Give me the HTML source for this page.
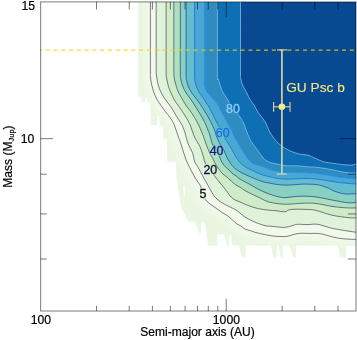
<!DOCTYPE html>
<html><head><meta charset="utf-8"><title>GU Psc b</title>
<style>html,body{margin:0;padding:0;background:#fff}svg{display:block}</style></head>
<body>
<svg width="357" height="340" viewBox="0 0 357 340" font-family="'Liberation Sans', Arial, Helvetica, sans-serif">
<rect width="357" height="340" fill="#ffffff"/>
<defs><clipPath id="pc"><rect x="40.65" y="1.90" width="315.35" height="309.10"/></clipPath>
<clipPath id="lc1"><path clip-rule="evenodd" d="M0,0H357V340H0Z M198.8,188.1h8.5v10.6h-8.5Z"/></clipPath>
<clipPath id="lc3"><path clip-rule="evenodd" d="M0,0H357V340H0Z M202.6,164.3h15.4v10.6h-15.4Z"/></clipPath>
<clipPath id="lc5"><path clip-rule="evenodd" d="M0,0H357V340H0Z M208.9,145.5h15.4v10.6h-15.4Z"/></clipPath>
<clipPath id="lc7"><path clip-rule="evenodd" d="M0,0H357V340H0Z M215.0,127.0h15.4v10.6h-15.4Z"/></clipPath>
<clipPath id="lc9"><path clip-rule="evenodd" d="M0,0H357V340H0Z M225.3,103.0h15.4v10.6h-15.4Z"/></clipPath>
<clipPath id="jc"><path d="M138.2,0.0 L138.2,93.0 L139.2,97.3 L141.0,97.3 L141.6,102.4 L145.2,102.4 L145.6,98.0 L147.0,98.0 L147.3,102.4 L150.5,102.4 L150.8,125.0 L157.2,125.6 L157.4,116.0 L159.5,116.0 L159.8,126.2 L162.9,126.2 L163.1,139.1 L166.8,139.1 L167.3,161.8 L175.5,161.8 L176.8,180.0 L181.2,208.0 L188.5,221.8 L194.8,221.8 L199.0,233.0 L201.1,233.0 L201.1,222.5 L204.6,222.5 L208.1,245.5 L217.2,245.5 L217.2,234.4 L224.1,234.4 L226.9,245.5 L229.0,245.5 L229.6,235.0 L231.2,235.0 L232.5,245.5 L238.8,245.5 L242.3,257.4 L245.3,257.4 L245.6,245.5 L271.1,245.5 L273.2,257.4 L276.7,257.4 L277.4,245.5 L278.5,245.5 L280.9,257.4 L283.0,257.4 L283.0,245.5 L289.3,245.5 L293.5,257.4 L295.9,257.4 L296.1,245.5 L337.1,245.5 L340.6,257.4 L346.2,257.4 L346.2,245.5 L357.0,245.5 L357.0,0.0Z"/></clipPath>
</defs>
<g clip-path="url(#pc)">
<path d="M138.2,0.0 L138.2,93.0 L139.2,97.3 L141.0,97.3 L141.6,102.4 L145.2,102.4 L145.6,98.0 L147.0,98.0 L147.3,102.4 L150.5,102.4 L150.8,125.0 L157.2,125.6 L157.4,116.0 L159.5,116.0 L159.8,126.2 L162.9,126.2 L163.1,139.1 L166.8,139.1 L167.3,161.8 L175.5,161.8 L176.8,180.0 L181.2,208.0 L188.5,221.8 L194.8,221.8 L199.0,233.0 L201.1,233.0 L201.1,222.5 L204.6,222.5 L208.1,245.5 L217.2,245.5 L217.2,234.4 L224.1,234.4 L226.9,245.5 L229.0,245.5 L229.6,235.0 L231.2,235.0 L232.5,245.5 L238.8,245.5 L242.3,257.4 L245.3,257.4 L245.6,245.5 L271.1,245.5 L273.2,257.4 L276.7,257.4 L277.4,245.5 L278.5,245.5 L280.9,257.4 L283.0,257.4 L283.0,245.5 L289.3,245.5 L293.5,257.4 L295.9,257.4 L296.1,245.5 L337.1,245.5 L340.6,257.4 L346.2,257.4 L346.2,245.5 L357.0,245.5 L357.0,0.0Z" fill="#ebf6e2"/>
<g clip-path="url(#jc)"><path d="M150.40,0.00 C150.40,6.67 150.40,28.33 150.40,40.00 C150.40,51.67 150.38,63.92 150.40,70.00 C150.42,76.08 150.35,74.33 150.50,76.50 C150.65,78.67 150.93,80.98 151.30,83.00 C151.67,85.02 152.18,86.77 152.70,88.60 C153.22,90.43 153.68,92.18 154.40,94.00 C155.12,95.82 156.07,97.83 157.00,99.50 C157.93,101.17 158.57,101.93 160.00,104.00 C161.43,106.07 164.18,109.98 165.60,111.90 C167.02,113.82 167.43,114.07 168.50,115.50 C169.57,116.93 171.03,118.90 172.00,120.50 C172.97,122.10 173.20,122.28 174.30,125.10 C175.40,127.92 177.43,134.08 178.60,137.40 C179.77,140.72 180.38,142.23 181.30,145.00 C182.22,147.77 183.17,151.20 184.10,154.00 C185.03,156.80 185.50,158.63 186.90,161.80 C188.30,164.97 190.78,169.80 192.50,173.00 C194.22,176.20 195.90,178.90 197.20,181.00 C198.50,183.10 199.33,183.55 200.30,185.60 C201.27,187.65 202.18,191.02 203.00,193.30 C203.82,195.58 204.02,197.50 205.20,199.30 C206.38,201.10 208.28,202.63 210.10,204.10 C211.92,205.57 214.08,206.68 216.10,208.10 C218.12,209.52 220.18,211.25 222.20,212.60 C224.22,213.95 226.37,214.85 228.20,216.20 C230.03,217.55 231.68,219.37 233.20,220.70 C234.72,222.03 236.17,223.42 237.30,224.20 C238.43,224.98 238.72,224.60 240.00,225.40 C241.28,226.20 243.32,228.13 245.00,229.00 C246.68,229.87 248.42,230.05 250.10,230.60 C251.78,231.15 253.08,231.73 255.10,232.30 C257.12,232.87 259.38,233.40 262.20,234.00 C265.02,234.60 269.03,235.48 272.00,235.90 C274.97,236.32 277.48,236.42 280.00,236.50 C282.52,236.58 284.73,236.77 287.10,236.40 C289.47,236.03 292.02,234.82 294.20,234.30 C296.38,233.78 297.90,233.45 300.20,233.30 C302.50,233.15 304.77,233.35 308.00,233.40 C311.23,233.45 316.27,233.22 319.60,233.60 C322.93,233.98 324.97,234.95 328.00,235.70 C331.03,236.45 334.30,237.52 337.80,238.10 C341.30,238.68 345.80,238.97 349.00,239.20 C352.20,239.43 355.67,239.45 357.00,239.50" fill="none" stroke="#edf7e5" stroke-width="17"/><path d="M150.40,0.00 C150.40,6.67 150.40,28.33 150.40,40.00 C150.40,51.67 150.38,63.92 150.40,70.00 C150.42,76.08 150.35,74.33 150.50,76.50 C150.65,78.67 150.93,80.98 151.30,83.00 C151.67,85.02 152.18,86.77 152.70,88.60 C153.22,90.43 153.68,92.18 154.40,94.00 C155.12,95.82 156.07,97.83 157.00,99.50 C157.93,101.17 158.57,101.93 160.00,104.00 C161.43,106.07 164.18,109.98 165.60,111.90 C167.02,113.82 167.43,114.07 168.50,115.50 C169.57,116.93 171.03,118.90 172.00,120.50 C172.97,122.10 173.20,122.28 174.30,125.10 C175.40,127.92 177.43,134.08 178.60,137.40 C179.77,140.72 180.38,142.23 181.30,145.00 C182.22,147.77 183.17,151.20 184.10,154.00 C185.03,156.80 185.50,158.63 186.90,161.80 C188.30,164.97 190.78,169.80 192.50,173.00 C194.22,176.20 195.90,178.90 197.20,181.00 C198.50,183.10 199.33,183.55 200.30,185.60 C201.27,187.65 202.18,191.02 203.00,193.30 C203.82,195.58 204.02,197.50 205.20,199.30 C206.38,201.10 208.28,202.63 210.10,204.10 C211.92,205.57 214.08,206.68 216.10,208.10 C218.12,209.52 220.18,211.25 222.20,212.60 C224.22,213.95 226.37,214.85 228.20,216.20 C230.03,217.55 231.68,219.37 233.20,220.70 C234.72,222.03 236.17,223.42 237.30,224.20 C238.43,224.98 238.72,224.60 240.00,225.40 C241.28,226.20 243.32,228.13 245.00,229.00 C246.68,229.87 248.42,230.05 250.10,230.60 C251.78,231.15 253.08,231.73 255.10,232.30 C257.12,232.87 259.38,233.40 262.20,234.00 C265.02,234.60 269.03,235.48 272.00,235.90 C274.97,236.32 277.48,236.42 280.00,236.50 C282.52,236.58 284.73,236.77 287.10,236.40 C289.47,236.03 292.02,234.82 294.20,234.30 C296.38,233.78 297.90,233.45 300.20,233.30 C302.50,233.15 304.77,233.35 308.00,233.40 C311.23,233.45 316.27,233.22 319.60,233.60 C322.93,233.98 324.97,234.95 328.00,235.70 C331.03,236.45 334.30,237.52 337.80,238.10 C341.30,238.68 345.80,238.97 349.00,239.20 C352.20,239.43 355.67,239.45 357.00,239.50" fill="none" stroke="#f0f8e9" stroke-width="9"/></g>
<path d="M183,186.4 L184.9,186.4 L185.3,195.7 L184.1,195.7 Z" fill="#ffffff"/>
<path d="M150.40,0.00 C150.40,6.67 150.40,28.33 150.40,40.00 C150.40,51.67 150.38,63.92 150.40,70.00 C150.42,76.08 150.35,74.33 150.50,76.50 C150.65,78.67 150.93,80.98 151.30,83.00 C151.67,85.02 152.18,86.77 152.70,88.60 C153.22,90.43 153.68,92.18 154.40,94.00 C155.12,95.82 156.07,97.83 157.00,99.50 C157.93,101.17 158.57,101.93 160.00,104.00 C161.43,106.07 164.18,109.98 165.60,111.90 C167.02,113.82 167.43,114.07 168.50,115.50 C169.57,116.93 171.03,118.90 172.00,120.50 C172.97,122.10 173.20,122.28 174.30,125.10 C175.40,127.92 177.43,134.08 178.60,137.40 C179.77,140.72 180.38,142.23 181.30,145.00 C182.22,147.77 183.17,151.20 184.10,154.00 C185.03,156.80 185.50,158.63 186.90,161.80 C188.30,164.97 190.78,169.80 192.50,173.00 C194.22,176.20 195.90,178.90 197.20,181.00 C198.50,183.10 199.33,183.55 200.30,185.60 C201.27,187.65 202.18,191.02 203.00,193.30 C203.82,195.58 204.02,197.50 205.20,199.30 C206.38,201.10 208.28,202.63 210.10,204.10 C211.92,205.57 214.08,206.68 216.10,208.10 C218.12,209.52 220.18,211.25 222.20,212.60 C224.22,213.95 226.37,214.85 228.20,216.20 C230.03,217.55 231.68,219.37 233.20,220.70 C234.72,222.03 236.17,223.42 237.30,224.20 C238.43,224.98 238.72,224.60 240.00,225.40 C241.28,226.20 243.32,228.13 245.00,229.00 C246.68,229.87 248.42,230.05 250.10,230.60 C251.78,231.15 253.08,231.73 255.10,232.30 C257.12,232.87 259.38,233.40 262.20,234.00 C265.02,234.60 269.03,235.48 272.00,235.90 C274.97,236.32 277.48,236.42 280.00,236.50 C282.52,236.58 284.73,236.77 287.10,236.40 C289.47,236.03 292.02,234.82 294.20,234.30 C296.38,233.78 297.90,233.45 300.20,233.30 C302.50,233.15 304.77,233.35 308.00,233.40 C311.23,233.45 316.27,233.22 319.60,233.60 C322.93,233.98 324.97,234.95 328.00,235.70 C331.03,236.45 334.30,237.52 337.80,238.10 C341.30,238.68 345.80,238.97 349.00,239.20 C352.20,239.43 355.67,239.45 357.00,239.50 L357,0.0 Z" fill="#f2f9ec"/>
<path d="M156.20,0.00 C156.20,6.67 156.20,28.67 156.20,40.00 C156.20,51.33 156.18,62.33 156.20,68.00 C156.22,73.67 156.13,72.00 156.30,74.00 C156.47,76.00 156.87,78.12 157.20,80.00 C157.53,81.88 157.70,83.30 158.30,85.30 C158.90,87.30 159.62,89.62 160.80,92.00 C161.98,94.38 163.95,97.43 165.40,99.60 C166.85,101.77 168.40,103.52 169.50,105.00 C170.60,106.48 171.08,107.03 172.00,108.50 C172.92,109.97 173.33,111.03 175.00,113.80 C176.67,116.57 180.33,121.92 182.00,125.10 C183.67,128.28 184.23,130.63 185.00,132.90 C185.77,135.17 186.00,136.68 186.60,138.70 C187.20,140.72 187.62,142.65 188.60,145.00 C189.58,147.35 191.48,150.00 192.50,152.80 C193.52,155.60 193.87,159.55 194.70,161.80 C195.53,164.05 196.62,164.77 197.50,166.30 C198.38,167.83 198.75,168.70 200.00,171.00 C201.25,173.30 203.32,177.07 205.00,180.10 C206.68,183.13 208.58,186.55 210.10,189.20 C211.62,191.85 212.77,194.20 214.10,196.00 C215.43,197.80 216.42,198.65 218.10,200.00 C219.78,201.35 222.18,202.92 224.20,204.10 C226.22,205.28 228.18,206.10 230.20,207.10 C232.22,208.10 234.67,209.10 236.30,210.10 C237.93,211.10 238.38,211.85 240.00,213.10 C241.62,214.35 243.48,216.08 246.00,217.60 C248.52,219.12 251.90,220.85 255.10,222.20 C258.30,223.55 262.38,225.02 265.20,225.70 C268.02,226.38 268.85,226.02 272.00,226.30 C275.15,226.58 280.73,227.50 284.10,227.40 C287.47,227.30 290.02,226.22 292.20,225.70 C294.38,225.18 294.57,224.48 297.20,224.30 C299.83,224.12 304.60,224.60 308.00,224.60 C311.40,224.60 313.80,223.73 317.60,224.30 C321.40,224.87 326.73,227.03 330.80,228.00 C334.87,228.97 337.63,229.37 342.00,230.10 C346.37,230.83 354.50,232.02 357.00,232.40 L357,0.0 Z" fill="#e1f2da"/>
<path d="M166.10,0.00 C166.10,6.67 166.10,28.33 166.10,40.00 C166.10,51.67 166.07,63.95 166.10,70.00 C166.13,76.05 166.12,74.47 166.30,76.30 C166.48,78.13 166.85,79.32 167.20,81.00 C167.55,82.68 167.80,84.47 168.40,86.40 C169.00,88.33 169.80,90.33 170.80,92.60 C171.80,94.87 173.08,97.72 174.40,100.00 C175.72,102.28 177.17,104.07 178.70,106.30 C180.23,108.53 181.80,110.53 183.60,113.40 C185.40,116.27 187.68,119.57 189.50,123.50 C191.32,127.43 192.75,133.13 194.50,137.00 C196.25,140.87 198.52,143.40 200.00,146.70 C201.48,150.00 202.47,153.92 203.40,156.80 C204.33,159.68 204.42,161.82 205.60,164.00 C206.78,166.18 209.08,167.98 210.50,169.90 C211.92,171.82 212.48,173.30 214.10,175.50 C215.72,177.70 218.35,180.82 220.20,183.10 C222.05,185.38 223.53,187.05 225.20,189.20 C226.87,191.35 228.68,194.28 230.20,196.00 C231.72,197.72 232.67,198.50 234.30,199.50 C235.93,200.50 237.70,201.00 240.00,202.00 C242.30,203.00 245.07,204.40 248.10,205.50 C251.13,206.60 254.85,207.83 258.20,208.60 C261.55,209.37 265.23,209.75 268.20,210.10 C271.17,210.45 273.68,210.45 276.00,210.70 C278.32,210.95 280.42,211.45 282.10,211.60 C283.78,211.75 284.93,211.90 286.10,211.60 C287.27,211.30 287.25,210.20 289.10,209.80 C290.95,209.40 294.05,209.25 297.20,209.20 C300.35,209.15 304.87,209.30 308.00,209.50 C311.13,209.70 312.00,209.45 316.00,210.40 C320.00,211.35 326.67,214.00 332.00,215.20 C337.33,216.40 343.83,217.15 348.00,217.60 C352.17,218.05 355.50,217.85 357.00,217.90 L357,0.0 Z" fill="#cfebc8"/>
<path d="M173.80,0.00 C173.80,6.67 173.80,28.33 173.80,40.00 C173.80,51.67 173.75,63.83 173.80,70.00 C173.85,76.17 173.80,74.67 174.10,77.00 C174.40,79.33 174.90,81.50 175.60,84.00 C176.30,86.50 177.10,89.33 178.30,92.00 C179.50,94.67 181.47,97.70 182.80,100.00 C184.13,102.30 184.90,103.75 186.30,105.80 C187.70,107.85 189.27,109.35 191.20,112.30 C193.13,115.25 195.88,119.53 197.90,123.50 C199.92,127.47 202.07,133.02 203.30,136.10 C204.53,139.18 204.32,139.38 205.30,142.00 C206.28,144.62 207.95,149.03 209.20,151.80 C210.45,154.57 211.63,156.35 212.80,158.60 C213.97,160.85 215.05,163.37 216.20,165.30 C217.35,167.23 218.58,168.75 219.70,170.20 C220.82,171.65 221.77,172.90 222.90,174.00 C224.03,175.10 225.10,175.62 226.50,176.80 C227.90,177.98 229.72,179.73 231.30,181.10 C232.88,182.47 234.55,183.98 236.00,185.00 C237.45,186.02 238.50,186.27 240.00,187.20 C241.50,188.13 243.00,189.43 245.00,190.60 C247.00,191.77 249.50,192.97 252.00,194.20 C254.50,195.43 257.33,196.73 260.00,198.00 C262.67,199.27 264.98,200.85 268.00,201.80 C271.02,202.75 274.73,203.30 278.10,203.70 C281.47,204.10 283.88,204.28 288.20,204.20 C292.52,204.12 299.37,203.32 304.00,203.20 C308.63,203.08 311.33,202.97 316.00,203.50 C320.67,204.03 327.17,205.68 332.00,206.40 C336.83,207.12 340.83,207.53 345.00,207.80 C349.17,208.07 355.00,207.97 357.00,208.00 L357,0.0 Z" fill="#ade0bc"/>
<path d="M180.30,0.00 C180.30,6.67 180.30,28.00 180.30,40.00 C180.30,52.00 180.22,65.50 180.30,72.00 C180.38,78.50 180.42,76.67 180.80,79.00 C181.18,81.33 181.70,83.67 182.60,86.00 C183.50,88.33 184.77,90.67 186.20,93.00 C187.63,95.33 189.12,96.87 191.20,100.00 C193.28,103.13 196.48,108.17 198.70,111.80 C200.92,115.43 202.95,118.72 204.50,121.80 C206.05,124.88 207.12,128.10 208.00,130.30 C208.88,132.50 209.00,132.53 209.80,135.00 C210.60,137.47 211.70,142.45 212.80,145.10 C213.90,147.75 215.27,148.93 216.40,150.90 C217.53,152.87 218.65,154.92 219.60,156.90 C220.55,158.88 220.97,160.98 222.10,162.80 C223.23,164.62 225.22,166.57 226.40,167.80 C227.58,169.03 228.27,169.28 229.20,170.20 C230.13,171.12 230.87,172.35 232.00,173.30 C233.13,174.25 234.65,174.93 236.00,175.90 C237.35,176.87 237.73,177.65 240.10,179.10 C242.47,180.55 247.18,182.92 250.20,184.60 C253.22,186.28 255.23,187.70 258.20,189.20 C261.17,190.70 264.68,192.35 268.00,193.60 C271.32,194.85 275.25,196.02 278.10,196.70 C280.95,197.38 282.58,197.70 285.10,197.70 C287.62,197.70 290.05,196.95 293.20,196.70 C296.35,196.45 300.20,196.15 304.00,196.20 C307.80,196.25 311.33,196.37 316.00,197.00 C320.67,197.63 326.67,199.03 332.00,200.00 C337.33,200.97 343.83,202.42 348.00,202.80 C352.17,203.18 355.50,202.38 357.00,202.30 L357,0.0 Z" fill="#88d1c2"/>
<path d="M186.10,0.00 C186.10,6.67 186.10,27.67 186.10,40.00 C186.10,52.33 186.00,67.17 186.10,74.00 C186.20,80.83 186.28,78.83 186.70,81.00 C187.12,83.17 187.75,85.00 188.60,87.00 C189.45,89.00 190.35,90.83 191.80,93.00 C193.25,95.17 195.43,97.42 197.30,100.00 C199.17,102.58 201.13,105.57 203.00,108.50 C204.87,111.43 206.92,114.77 208.50,117.60 C210.08,120.43 211.38,123.12 212.50,125.50 C213.62,127.88 214.58,130.23 215.20,131.90 C215.82,133.57 215.38,133.45 216.20,135.50 C217.02,137.55 218.83,141.75 220.10,144.20 C221.37,146.65 222.70,148.08 223.80,150.20 C224.90,152.32 225.65,154.80 226.70,156.90 C227.75,159.00 228.80,160.95 230.10,162.80 C231.40,164.65 232.50,166.30 234.50,168.00 C236.50,169.70 239.15,171.40 242.10,173.00 C245.05,174.60 248.83,176.17 252.20,177.60 C255.57,179.03 259.67,180.73 262.30,181.60 C264.93,182.47 265.37,182.30 268.00,182.80 C270.63,183.30 274.73,184.22 278.10,184.60 C281.47,184.98 283.88,185.18 288.20,185.10 C292.52,185.02 299.20,184.17 304.00,184.10 C308.80,184.03 313.72,184.32 317.00,184.70 C320.28,185.08 321.83,185.85 323.70,186.40 C325.57,186.95 326.32,187.17 328.20,188.00 C330.08,188.83 332.20,190.42 335.00,191.40 C337.80,192.38 341.33,193.52 345.00,193.90 C348.67,194.28 355.00,193.73 357.00,193.70 L357,0.0 Z" fill="#64bdce"/>
<path d="M194.60,0.00 C194.60,6.67 194.60,27.33 194.60,40.00 C194.60,52.67 194.52,69.00 194.60,76.00 C194.68,83.00 194.70,80.00 195.10,82.00 C195.50,84.00 196.18,86.08 197.00,88.00 C197.82,89.92 198.75,91.50 200.00,93.50 C201.25,95.50 202.90,97.55 204.50,100.00 C206.10,102.45 207.93,105.20 209.60,108.20 C211.27,111.20 213.03,115.13 214.50,118.00 C215.97,120.87 217.10,122.97 218.40,125.40 C219.70,127.83 221.28,130.58 222.30,132.60 C223.32,134.62 223.27,135.27 224.50,137.50 C225.73,139.73 228.23,143.58 229.70,146.00 C231.17,148.42 232.08,149.92 233.30,152.00 C234.52,154.08 235.58,156.45 237.00,158.50 C238.42,160.55 240.10,162.70 241.80,164.30 C243.50,165.90 245.50,167.12 247.20,168.10 C248.90,169.08 250.02,169.28 252.00,170.20 C253.98,171.12 256.93,172.70 259.10,173.60 C261.27,174.50 263.18,175.05 265.00,175.60 C266.82,176.15 268.33,176.50 270.00,176.90 C271.67,177.30 272.82,177.65 275.00,178.00 C277.18,178.35 280.10,178.83 283.10,179.00 C286.10,179.17 289.52,179.08 293.00,179.00 C296.48,178.92 300.00,178.48 304.00,178.50 C308.00,178.52 312.97,178.72 317.00,179.10 C321.03,179.48 324.47,180.23 328.20,180.80 C331.93,181.37 335.67,182.03 339.40,182.50 C343.13,182.97 347.67,183.35 350.60,183.60 C353.53,183.85 355.93,183.93 357.00,184.00 L357,0.0 Z" fill="#49a7d1"/>
<path d="M204.40,0.00 C204.40,6.67 204.40,26.67 204.40,40.00 C204.40,53.33 204.37,72.33 204.40,80.00 C204.43,87.67 204.27,84.17 204.60,86.00 C204.93,87.83 205.57,89.50 206.40,91.00 C207.23,92.50 208.42,93.58 209.60,95.00 C210.78,96.42 212.23,98.03 213.50,99.50 C214.77,100.97 215.83,101.67 217.20,103.80 C218.57,105.93 220.02,109.20 221.70,112.30 C223.38,115.40 225.62,119.37 227.30,122.40 C228.98,125.43 230.63,128.07 231.80,130.50 C232.97,132.93 233.50,135.32 234.30,137.00 C235.10,138.68 235.68,139.10 236.60,140.60 C237.52,142.10 238.85,144.42 239.80,146.00 C240.75,147.58 241.35,148.52 242.30,150.10 C243.25,151.68 244.47,153.92 245.50,155.50 C246.53,157.08 247.42,158.38 248.50,159.60 C249.58,160.82 250.78,161.97 252.00,162.80 C253.22,163.63 253.87,163.92 255.80,164.60 C257.73,165.28 261.23,166.07 263.60,166.90 C265.97,167.73 268.10,168.93 270.00,169.60 C271.90,170.27 273.17,170.50 275.00,170.90 C276.83,171.30 278.93,171.75 281.00,172.00 C283.07,172.25 284.23,172.32 287.40,172.40 C290.57,172.48 296.23,172.42 300.00,172.50 C303.77,172.58 307.17,172.73 310.00,172.90 C312.83,173.07 313.97,173.12 317.00,173.50 C320.03,173.88 324.47,174.58 328.20,175.20 C331.93,175.82 335.67,176.63 339.40,177.20 C343.13,177.77 347.67,178.32 350.60,178.60 C353.53,178.88 355.93,178.85 357.00,178.90 L357,0.0 Z" fill="#2e8cc0"/>
<path d="M217.40,0.00 C217.40,6.67 217.40,27.33 217.40,40.00 C217.40,52.67 217.28,69.50 217.40,76.00 C217.52,82.50 217.82,78.08 218.10,79.00 C218.38,79.92 218.47,79.63 219.10,81.50 C219.73,83.37 220.92,87.87 221.90,90.20 C222.88,92.53 224.05,93.97 225.00,95.50 C225.95,97.03 226.82,98.05 227.60,99.40 C228.38,100.75 228.90,102.10 229.70,103.60 C230.50,105.10 231.12,106.77 232.40,108.40 C233.68,110.03 235.97,111.72 237.40,113.40 C238.83,115.08 239.98,116.90 241.00,118.50 C242.02,120.10 242.58,120.92 243.50,123.00 C244.42,125.08 245.58,128.67 246.50,131.00 C247.42,133.33 248.18,135.17 249.00,137.00 C249.82,138.83 250.27,140.20 251.40,142.00 C252.53,143.80 254.53,146.08 255.80,147.80 C257.07,149.52 257.88,150.80 259.00,152.30 C260.12,153.80 261.50,155.55 262.50,156.80 C263.50,158.05 263.75,158.87 265.00,159.80 C266.25,160.73 268.33,161.77 270.00,162.40 C271.67,163.03 272.30,163.03 275.00,163.60 C277.70,164.17 282.47,165.43 286.20,165.80 C289.93,166.17 293.67,165.62 297.40,165.80 C301.13,165.98 305.50,166.67 308.60,166.90 C311.70,167.13 312.73,166.85 316.00,167.20 C319.27,167.55 324.30,168.32 328.20,169.00 C332.10,169.68 335.67,170.63 339.40,171.30 C343.13,171.97 347.67,172.70 350.60,173.00 C353.53,173.30 355.93,173.08 357.00,173.10 L357,0.0 Z" fill="#0f6fb5"/>
<path d="M240.50,0.00 C240.50,6.67 240.50,27.67 240.50,40.00 C240.50,52.33 240.43,67.50 240.50,74.00 C240.57,80.50 240.62,77.33 240.90,79.00 C241.18,80.67 241.58,82.33 242.20,84.00 C242.82,85.67 243.75,87.33 244.60,89.00 C245.45,90.67 246.40,92.25 247.30,94.00 C248.20,95.75 248.88,97.67 250.00,99.50 C251.12,101.33 252.60,102.78 254.00,105.00 C255.40,107.22 256.53,110.00 258.40,112.80 C260.27,115.60 263.42,118.80 265.20,121.80 C266.98,124.80 267.62,128.00 269.10,130.80 C270.58,133.60 272.60,136.57 274.10,138.60 C275.60,140.63 277.02,141.92 278.10,143.00 C279.18,144.08 279.25,144.10 280.60,145.10 C281.95,146.10 283.77,147.70 286.20,149.00 C288.63,150.30 292.40,151.97 295.20,152.90 C298.00,153.83 300.77,154.20 303.00,154.60 C305.23,155.00 306.77,154.77 308.60,155.30 C310.43,155.83 312.60,157.18 314.00,157.80 C315.40,158.42 315.38,158.33 317.00,159.00 C318.62,159.67 320.90,161.07 323.70,161.80 C326.50,162.53 330.25,162.90 333.80,163.40 C337.35,163.90 342.02,164.52 345.00,164.80 C347.98,165.08 349.92,165.20 351.70,165.10 C353.48,165.00 354.82,164.42 355.70,164.20 C356.58,163.98 356.78,163.87 357.00,163.80 L357,0.0 Z" fill="#084a91"/>
<g clip-path="url(#lc1)"><path d="M150.40,0.00 C150.40,6.67 150.40,28.33 150.40,40.00 C150.40,51.67 150.38,63.92 150.40,70.00 C150.42,76.08 150.35,74.33 150.50,76.50 C150.65,78.67 150.93,80.98 151.30,83.00 C151.67,85.02 152.18,86.77 152.70,88.60 C153.22,90.43 153.68,92.18 154.40,94.00 C155.12,95.82 156.07,97.83 157.00,99.50 C157.93,101.17 158.57,101.93 160.00,104.00 C161.43,106.07 164.18,109.98 165.60,111.90 C167.02,113.82 167.43,114.07 168.50,115.50 C169.57,116.93 171.03,118.90 172.00,120.50 C172.97,122.10 173.20,122.28 174.30,125.10 C175.40,127.92 177.43,134.08 178.60,137.40 C179.77,140.72 180.38,142.23 181.30,145.00 C182.22,147.77 183.17,151.20 184.10,154.00 C185.03,156.80 185.50,158.63 186.90,161.80 C188.30,164.97 190.78,169.80 192.50,173.00 C194.22,176.20 195.90,178.90 197.20,181.00 C198.50,183.10 199.33,183.55 200.30,185.60 C201.27,187.65 202.18,191.02 203.00,193.30 C203.82,195.58 204.02,197.50 205.20,199.30 C206.38,201.10 208.28,202.63 210.10,204.10 C211.92,205.57 214.08,206.68 216.10,208.10 C218.12,209.52 220.18,211.25 222.20,212.60 C224.22,213.95 226.37,214.85 228.20,216.20 C230.03,217.55 231.68,219.37 233.20,220.70 C234.72,222.03 236.17,223.42 237.30,224.20 C238.43,224.98 238.72,224.60 240.00,225.40 C241.28,226.20 243.32,228.13 245.00,229.00 C246.68,229.87 248.42,230.05 250.10,230.60 C251.78,231.15 253.08,231.73 255.10,232.30 C257.12,232.87 259.38,233.40 262.20,234.00 C265.02,234.60 269.03,235.48 272.00,235.90 C274.97,236.32 277.48,236.42 280.00,236.50 C282.52,236.58 284.73,236.77 287.10,236.40 C289.47,236.03 292.02,234.82 294.20,234.30 C296.38,233.78 297.90,233.45 300.20,233.30 C302.50,233.15 304.77,233.35 308.00,233.40 C311.23,233.45 316.27,233.22 319.60,233.60 C322.93,233.98 324.97,234.95 328.00,235.70 C331.03,236.45 334.30,237.52 337.80,238.10 C341.30,238.68 345.80,238.97 349.00,239.20 C352.20,239.43 355.67,239.45 357.00,239.50" fill="none" stroke="#000000" stroke-width="0.95" stroke-opacity="0.52"/></g>
<g><path d="M156.20,0.00 C156.20,6.67 156.20,28.67 156.20,40.00 C156.20,51.33 156.18,62.33 156.20,68.00 C156.22,73.67 156.13,72.00 156.30,74.00 C156.47,76.00 156.87,78.12 157.20,80.00 C157.53,81.88 157.70,83.30 158.30,85.30 C158.90,87.30 159.62,89.62 160.80,92.00 C161.98,94.38 163.95,97.43 165.40,99.60 C166.85,101.77 168.40,103.52 169.50,105.00 C170.60,106.48 171.08,107.03 172.00,108.50 C172.92,109.97 173.33,111.03 175.00,113.80 C176.67,116.57 180.33,121.92 182.00,125.10 C183.67,128.28 184.23,130.63 185.00,132.90 C185.77,135.17 186.00,136.68 186.60,138.70 C187.20,140.72 187.62,142.65 188.60,145.00 C189.58,147.35 191.48,150.00 192.50,152.80 C193.52,155.60 193.87,159.55 194.70,161.80 C195.53,164.05 196.62,164.77 197.50,166.30 C198.38,167.83 198.75,168.70 200.00,171.00 C201.25,173.30 203.32,177.07 205.00,180.10 C206.68,183.13 208.58,186.55 210.10,189.20 C211.62,191.85 212.77,194.20 214.10,196.00 C215.43,197.80 216.42,198.65 218.10,200.00 C219.78,201.35 222.18,202.92 224.20,204.10 C226.22,205.28 228.18,206.10 230.20,207.10 C232.22,208.10 234.67,209.10 236.30,210.10 C237.93,211.10 238.38,211.85 240.00,213.10 C241.62,214.35 243.48,216.08 246.00,217.60 C248.52,219.12 251.90,220.85 255.10,222.20 C258.30,223.55 262.38,225.02 265.20,225.70 C268.02,226.38 268.85,226.02 272.00,226.30 C275.15,226.58 280.73,227.50 284.10,227.40 C287.47,227.30 290.02,226.22 292.20,225.70 C294.38,225.18 294.57,224.48 297.20,224.30 C299.83,224.12 304.60,224.60 308.00,224.60 C311.40,224.60 313.80,223.73 317.60,224.30 C321.40,224.87 326.73,227.03 330.80,228.00 C334.87,228.97 337.63,229.37 342.00,230.10 C346.37,230.83 354.50,232.02 357.00,232.40" fill="none" stroke="#000010" stroke-width="0.95" stroke-opacity="0.52"/></g>
<g clip-path="url(#lc3)"><path d="M166.10,0.00 C166.10,6.67 166.10,28.33 166.10,40.00 C166.10,51.67 166.07,63.95 166.10,70.00 C166.13,76.05 166.12,74.47 166.30,76.30 C166.48,78.13 166.85,79.32 167.20,81.00 C167.55,82.68 167.80,84.47 168.40,86.40 C169.00,88.33 169.80,90.33 170.80,92.60 C171.80,94.87 173.08,97.72 174.40,100.00 C175.72,102.28 177.17,104.07 178.70,106.30 C180.23,108.53 181.80,110.53 183.60,113.40 C185.40,116.27 187.68,119.57 189.50,123.50 C191.32,127.43 192.75,133.13 194.50,137.00 C196.25,140.87 198.52,143.40 200.00,146.70 C201.48,150.00 202.47,153.92 203.40,156.80 C204.33,159.68 204.42,161.82 205.60,164.00 C206.78,166.18 209.08,167.98 210.50,169.90 C211.92,171.82 212.48,173.30 214.10,175.50 C215.72,177.70 218.35,180.82 220.20,183.10 C222.05,185.38 223.53,187.05 225.20,189.20 C226.87,191.35 228.68,194.28 230.20,196.00 C231.72,197.72 232.67,198.50 234.30,199.50 C235.93,200.50 237.70,201.00 240.00,202.00 C242.30,203.00 245.07,204.40 248.10,205.50 C251.13,206.60 254.85,207.83 258.20,208.60 C261.55,209.37 265.23,209.75 268.20,210.10 C271.17,210.45 273.68,210.45 276.00,210.70 C278.32,210.95 280.42,211.45 282.10,211.60 C283.78,211.75 284.93,211.90 286.10,211.60 C287.27,211.30 287.25,210.20 289.10,209.80 C290.95,209.40 294.05,209.25 297.20,209.20 C300.35,209.15 304.87,209.30 308.00,209.50 C311.13,209.70 312.00,209.45 316.00,210.40 C320.00,211.35 326.67,214.00 332.00,215.20 C337.33,216.40 343.83,217.15 348.00,217.60 C352.17,218.05 355.50,217.85 357.00,217.90" fill="none" stroke="#06062c" stroke-width="0.95" stroke-opacity="0.53"/></g>
<g><path d="M173.80,0.00 C173.80,6.67 173.80,28.33 173.80,40.00 C173.80,51.67 173.75,63.83 173.80,70.00 C173.85,76.17 173.80,74.67 174.10,77.00 C174.40,79.33 174.90,81.50 175.60,84.00 C176.30,86.50 177.10,89.33 178.30,92.00 C179.50,94.67 181.47,97.70 182.80,100.00 C184.13,102.30 184.90,103.75 186.30,105.80 C187.70,107.85 189.27,109.35 191.20,112.30 C193.13,115.25 195.88,119.53 197.90,123.50 C199.92,127.47 202.07,133.02 203.30,136.10 C204.53,139.18 204.32,139.38 205.30,142.00 C206.28,144.62 207.95,149.03 209.20,151.80 C210.45,154.57 211.63,156.35 212.80,158.60 C213.97,160.85 215.05,163.37 216.20,165.30 C217.35,167.23 218.58,168.75 219.70,170.20 C220.82,171.65 221.77,172.90 222.90,174.00 C224.03,175.10 225.10,175.62 226.50,176.80 C227.90,177.98 229.72,179.73 231.30,181.10 C232.88,182.47 234.55,183.98 236.00,185.00 C237.45,186.02 238.50,186.27 240.00,187.20 C241.50,188.13 243.00,189.43 245.00,190.60 C247.00,191.77 249.50,192.97 252.00,194.20 C254.50,195.43 257.33,196.73 260.00,198.00 C262.67,199.27 264.98,200.85 268.00,201.80 C271.02,202.75 274.73,203.30 278.10,203.70 C281.47,204.10 283.88,204.28 288.20,204.20 C292.52,204.12 299.37,203.32 304.00,203.20 C308.63,203.08 311.33,202.97 316.00,203.50 C320.67,204.03 327.17,205.68 332.00,206.40 C336.83,207.12 340.83,207.53 345.00,207.80 C349.17,208.07 355.00,207.97 357.00,208.00" fill="none" stroke="#0c0c50" stroke-width="0.95" stroke-opacity="0.55"/></g>
<g clip-path="url(#lc5)"><path d="M180.30,0.00 C180.30,6.67 180.30,28.00 180.30,40.00 C180.30,52.00 180.22,65.50 180.30,72.00 C180.38,78.50 180.42,76.67 180.80,79.00 C181.18,81.33 181.70,83.67 182.60,86.00 C183.50,88.33 184.77,90.67 186.20,93.00 C187.63,95.33 189.12,96.87 191.20,100.00 C193.28,103.13 196.48,108.17 198.70,111.80 C200.92,115.43 202.95,118.72 204.50,121.80 C206.05,124.88 207.12,128.10 208.00,130.30 C208.88,132.50 209.00,132.53 209.80,135.00 C210.60,137.47 211.70,142.45 212.80,145.10 C213.90,147.75 215.27,148.93 216.40,150.90 C217.53,152.87 218.65,154.92 219.60,156.90 C220.55,158.88 220.97,160.98 222.10,162.80 C223.23,164.62 225.22,166.57 226.40,167.80 C227.58,169.03 228.27,169.28 229.20,170.20 C230.13,171.12 230.87,172.35 232.00,173.30 C233.13,174.25 234.65,174.93 236.00,175.90 C237.35,176.87 237.73,177.65 240.10,179.10 C242.47,180.55 247.18,182.92 250.20,184.60 C253.22,186.28 255.23,187.70 258.20,189.20 C261.17,190.70 264.68,192.35 268.00,193.60 C271.32,194.85 275.25,196.02 278.10,196.70 C280.95,197.38 282.58,197.70 285.10,197.70 C287.62,197.70 290.05,196.95 293.20,196.70 C296.35,196.45 300.20,196.15 304.00,196.20 C307.80,196.25 311.33,196.37 316.00,197.00 C320.67,197.63 326.67,199.03 332.00,200.00 C337.33,200.97 343.83,202.42 348.00,202.80 C352.17,203.18 355.50,202.38 357.00,202.30" fill="none" stroke="#14147c" stroke-width="0.95" stroke-opacity="0.62"/></g>
<g><path d="M186.10,0.00 C186.10,6.67 186.10,27.67 186.10,40.00 C186.10,52.33 186.00,67.17 186.10,74.00 C186.20,80.83 186.28,78.83 186.70,81.00 C187.12,83.17 187.75,85.00 188.60,87.00 C189.45,89.00 190.35,90.83 191.80,93.00 C193.25,95.17 195.43,97.42 197.30,100.00 C199.17,102.58 201.13,105.57 203.00,108.50 C204.87,111.43 206.92,114.77 208.50,117.60 C210.08,120.43 211.38,123.12 212.50,125.50 C213.62,127.88 214.58,130.23 215.20,131.90 C215.82,133.57 215.38,133.45 216.20,135.50 C217.02,137.55 218.83,141.75 220.10,144.20 C221.37,146.65 222.70,148.08 223.80,150.20 C224.90,152.32 225.65,154.80 226.70,156.90 C227.75,159.00 228.80,160.95 230.10,162.80 C231.40,164.65 232.50,166.30 234.50,168.00 C236.50,169.70 239.15,171.40 242.10,173.00 C245.05,174.60 248.83,176.17 252.20,177.60 C255.57,179.03 259.67,180.73 262.30,181.60 C264.93,182.47 265.37,182.30 268.00,182.80 C270.63,183.30 274.73,184.22 278.10,184.60 C281.47,184.98 283.88,185.18 288.20,185.10 C292.52,185.02 299.20,184.17 304.00,184.10 C308.80,184.03 313.72,184.32 317.00,184.70 C320.28,185.08 321.83,185.85 323.70,186.40 C325.57,186.95 326.32,187.17 328.20,188.00 C330.08,188.83 332.20,190.42 335.00,191.40 C337.80,192.38 341.33,193.52 345.00,193.90 C348.67,194.28 355.00,193.73 357.00,193.70" fill="none" stroke="#1430a0" stroke-width="0.95" stroke-opacity="0.68"/></g>
<g clip-path="url(#lc7)"><path d="M194.60,0.00 C194.60,6.67 194.60,27.33 194.60,40.00 C194.60,52.67 194.52,69.00 194.60,76.00 C194.68,83.00 194.70,80.00 195.10,82.00 C195.50,84.00 196.18,86.08 197.00,88.00 C197.82,89.92 198.75,91.50 200.00,93.50 C201.25,95.50 202.90,97.55 204.50,100.00 C206.10,102.45 207.93,105.20 209.60,108.20 C211.27,111.20 213.03,115.13 214.50,118.00 C215.97,120.87 217.10,122.97 218.40,125.40 C219.70,127.83 221.28,130.58 222.30,132.60 C223.32,134.62 223.27,135.27 224.50,137.50 C225.73,139.73 228.23,143.58 229.70,146.00 C231.17,148.42 232.08,149.92 233.30,152.00 C234.52,154.08 235.58,156.45 237.00,158.50 C238.42,160.55 240.10,162.70 241.80,164.30 C243.50,165.90 245.50,167.12 247.20,168.10 C248.90,169.08 250.02,169.28 252.00,170.20 C253.98,171.12 256.93,172.70 259.10,173.60 C261.27,174.50 263.18,175.05 265.00,175.60 C266.82,176.15 268.33,176.50 270.00,176.90 C271.67,177.30 272.82,177.65 275.00,178.00 C277.18,178.35 280.10,178.83 283.10,179.00 C286.10,179.17 289.52,179.08 293.00,179.00 C296.48,178.92 300.00,178.48 304.00,178.50 C308.00,178.52 312.97,178.72 317.00,179.10 C321.03,179.48 324.47,180.23 328.20,180.80 C331.93,181.37 335.67,182.03 339.40,182.50 C343.13,182.97 347.67,183.35 350.60,183.60 C353.53,183.85 355.93,183.93 357.00,184.00" fill="none" stroke="#1466e6" stroke-width="0.95" stroke-opacity="0.80"/></g>
<g><path d="M204.40,0.00 C204.40,6.67 204.40,26.67 204.40,40.00 C204.40,53.33 204.37,72.33 204.40,80.00 C204.43,87.67 204.27,84.17 204.60,86.00 C204.93,87.83 205.57,89.50 206.40,91.00 C207.23,92.50 208.42,93.58 209.60,95.00 C210.78,96.42 212.23,98.03 213.50,99.50 C214.77,100.97 215.83,101.67 217.20,103.80 C218.57,105.93 220.02,109.20 221.70,112.30 C223.38,115.40 225.62,119.37 227.30,122.40 C228.98,125.43 230.63,128.07 231.80,130.50 C232.97,132.93 233.50,135.32 234.30,137.00 C235.10,138.68 235.68,139.10 236.60,140.60 C237.52,142.10 238.85,144.42 239.80,146.00 C240.75,147.58 241.35,148.52 242.30,150.10 C243.25,151.68 244.47,153.92 245.50,155.50 C246.53,157.08 247.42,158.38 248.50,159.60 C249.58,160.82 250.78,161.97 252.00,162.80 C253.22,163.63 253.87,163.92 255.80,164.60 C257.73,165.28 261.23,166.07 263.60,166.90 C265.97,167.73 268.10,168.93 270.00,169.60 C271.90,170.27 273.17,170.50 275.00,170.90 C276.83,171.30 278.93,171.75 281.00,172.00 C283.07,172.25 284.23,172.32 287.40,172.40 C290.57,172.48 296.23,172.42 300.00,172.50 C303.77,172.58 307.17,172.73 310.00,172.90 C312.83,173.07 313.97,173.12 317.00,173.50 C320.03,173.88 324.47,174.58 328.20,175.20 C331.93,175.82 335.67,176.63 339.40,177.20 C343.13,177.77 347.67,178.32 350.60,178.60 C353.53,178.88 355.93,178.85 357.00,178.90" fill="none" stroke="#1e90ff" stroke-width="0.95" stroke-opacity="0.80"/></g>
<g clip-path="url(#lc9)"><path d="M217.40,0.00 C217.40,6.67 217.40,27.33 217.40,40.00 C217.40,52.67 217.28,69.50 217.40,76.00 C217.52,82.50 217.82,78.08 218.10,79.00 C218.38,79.92 218.47,79.63 219.10,81.50 C219.73,83.37 220.92,87.87 221.90,90.20 C222.88,92.53 224.05,93.97 225.00,95.50 C225.95,97.03 226.82,98.05 227.60,99.40 C228.38,100.75 228.90,102.10 229.70,103.60 C230.50,105.10 231.12,106.77 232.40,108.40 C233.68,110.03 235.97,111.72 237.40,113.40 C238.83,115.08 239.98,116.90 241.00,118.50 C242.02,120.10 242.58,120.92 243.50,123.00 C244.42,125.08 245.58,128.67 246.50,131.00 C247.42,133.33 248.18,135.17 249.00,137.00 C249.82,138.83 250.27,140.20 251.40,142.00 C252.53,143.80 254.53,146.08 255.80,147.80 C257.07,149.52 257.88,150.80 259.00,152.30 C260.12,153.80 261.50,155.55 262.50,156.80 C263.50,158.05 263.75,158.87 265.00,159.80 C266.25,160.73 268.33,161.77 270.00,162.40 C271.67,163.03 272.30,163.03 275.00,163.60 C277.70,164.17 282.47,165.43 286.20,165.80 C289.93,166.17 293.67,165.62 297.40,165.80 C301.13,165.98 305.50,166.67 308.60,166.90 C311.70,167.13 312.73,166.85 316.00,167.20 C319.27,167.55 324.30,168.32 328.20,169.00 C332.10,169.68 335.67,170.63 339.40,171.30 C343.13,171.97 347.67,172.70 350.60,173.00 C353.53,173.30 355.93,173.08 357.00,173.10" fill="none" stroke="#a0d8ff" stroke-width="0.95" stroke-opacity="0.62"/></g>
<g><path d="M240.50,0.00 C240.50,6.67 240.50,27.67 240.50,40.00 C240.50,52.33 240.43,67.50 240.50,74.00 C240.57,80.50 240.62,77.33 240.90,79.00 C241.18,80.67 241.58,82.33 242.20,84.00 C242.82,85.67 243.75,87.33 244.60,89.00 C245.45,90.67 246.40,92.25 247.30,94.00 C248.20,95.75 248.88,97.67 250.00,99.50 C251.12,101.33 252.60,102.78 254.00,105.00 C255.40,107.22 256.53,110.00 258.40,112.80 C260.27,115.60 263.42,118.80 265.20,121.80 C266.98,124.80 267.62,128.00 269.10,130.80 C270.58,133.60 272.60,136.57 274.10,138.60 C275.60,140.63 277.02,141.92 278.10,143.00 C279.18,144.08 279.25,144.10 280.60,145.10 C281.95,146.10 283.77,147.70 286.20,149.00 C288.63,150.30 292.40,151.97 295.20,152.90 C298.00,153.83 300.77,154.20 303.00,154.60 C305.23,155.00 306.77,154.77 308.60,155.30 C310.43,155.83 312.60,157.18 314.00,157.80 C315.40,158.42 315.38,158.33 317.00,159.00 C318.62,159.67 320.90,161.07 323.70,161.80 C326.50,162.53 330.25,162.90 333.80,163.40 C337.35,163.90 342.02,164.52 345.00,164.80 C347.98,165.08 349.92,165.20 351.70,165.10 C353.48,165.00 354.82,164.42 355.70,164.20 C356.58,163.98 356.78,163.87 357.00,163.80" fill="none" stroke="#d0e8ff" stroke-width="0.95" stroke-opacity="0.55"/></g>
</g>
<text x="203.0" y="197.8" font-size="12.4" text-anchor="middle" fill="#111111" stroke="#111111" stroke-width="0.34">5</text>
<text x="210.3" y="174.0" font-size="12.4" text-anchor="middle" fill="#14143a" stroke="#14143a" stroke-width="0.34">20</text>
<text x="216.6" y="155.2" font-size="12.4" text-anchor="middle" fill="#1a1a86" stroke="#1a1a86" stroke-width="0.34">40</text>
<text x="222.7" y="136.8" font-size="12.4" text-anchor="middle" fill="#1a72e6" stroke="#1a72e6" stroke-width="0.34">60</text>
<text x="233.0" y="112.8" font-size="12.4" text-anchor="middle" fill="#8ccaf8" stroke="#8ccaf8" stroke-width="0.34">80</text>
<line x1="40.65" y1="50.1" x2="356.0" y2="50.1" stroke="#ffd000" stroke-opacity="0.82" stroke-width="1.3" stroke-dasharray="4,3.8" stroke-dashoffset="2.85"/>
<g stroke="#dcd9a0" stroke-width="1.6" fill="none">
<line x1="277.0" y1="49.9" x2="287.2" y2="49.9" stroke-width="1.1"/>
<line x1="281.9" y1="50.0" x2="281.9" y2="174.1"/>
<line x1="276.8" y1="174.1" x2="286.9" y2="174.1" stroke-width="1.1"/>
<line x1="273.6" y1="106.8" x2="290.0" y2="106.8" stroke-width="1.1"/>
<line x1="273.6" y1="101.9" x2="273.6" y2="111.7" stroke-width="1.1"/>
<line x1="290.0" y1="101.9" x2="290.0" y2="111.7" stroke-width="1.1"/>
</g>
<circle cx="281.9" cy="106.8" r="3.3" fill="#f8ea8c"/>
<text x="286.2" y="91.9" font-size="13.7" fill="#f5e784" stroke="#f5e784" stroke-width="0.12">GU Psc b</text>
<g stroke="#000" stroke-opacity="0.52" stroke-width="1" fill="none">
<rect x="40.65" y="1.90" width="315.35" height="309.10"/>
<line x1="96.52" y1="311.00" x2="96.52" y2="305.80"/>
<line x1="96.52" y1="1.90" x2="96.52" y2="9.50"/>
<line x1="129.21" y1="311.00" x2="129.21" y2="305.80"/>
<line x1="129.21" y1="1.90" x2="129.21" y2="9.50"/>
<line x1="152.40" y1="311.00" x2="152.40" y2="305.80"/>
<line x1="152.40" y1="1.90" x2="152.40" y2="9.50"/>
<line x1="170.39" y1="311.00" x2="170.39" y2="305.80"/>
<line x1="170.39" y1="1.90" x2="170.39" y2="9.50"/>
<line x1="185.08" y1="311.00" x2="185.08" y2="305.80"/>
<line x1="185.08" y1="1.90" x2="185.08" y2="9.50"/>
<line x1="197.51" y1="311.00" x2="197.51" y2="305.80"/>
<line x1="197.51" y1="1.90" x2="197.51" y2="9.50"/>
<line x1="208.27" y1="311.00" x2="208.27" y2="305.80"/>
<line x1="208.27" y1="1.90" x2="208.27" y2="9.50"/>
<line x1="217.77" y1="311.00" x2="217.77" y2="305.80"/>
<line x1="217.77" y1="1.90" x2="217.77" y2="9.50"/>
<line x1="226.26" y1="311.00" x2="226.26" y2="298.90"/>
<line x1="226.26" y1="1.90" x2="226.26" y2="17.10"/>
<line x1="282.14" y1="311.00" x2="282.14" y2="305.80"/>
<line x1="282.14" y1="1.90" x2="282.14" y2="9.50"/>
<line x1="314.82" y1="311.00" x2="314.82" y2="305.80"/>
<line x1="314.82" y1="1.90" x2="314.82" y2="9.50"/>
<line x1="338.01" y1="311.00" x2="338.01" y2="305.80"/>
<line x1="338.01" y1="1.90" x2="338.01" y2="9.50"/>
<line x1="40.65" y1="259.00" x2="46.75" y2="259.00"/>
<line x1="356.00" y1="259.00" x2="347.90" y2="259.00"/>
<line x1="40.65" y1="213.95" x2="46.75" y2="213.95"/>
<line x1="356.00" y1="213.95" x2="347.90" y2="213.95"/>
<line x1="40.65" y1="174.22" x2="46.75" y2="174.22"/>
<line x1="356.00" y1="174.22" x2="347.90" y2="174.22"/>
<line x1="40.65" y1="138.68" x2="53.05" y2="138.68"/>
<line x1="356.00" y1="138.68" x2="340.20" y2="138.68"/>
</g>
<g font-size="12.2" fill="#000" stroke="#000" stroke-width="0.2">
<text x="35.1" y="9.7" text-anchor="end">15</text>
<text x="34.3" y="142.9" text-anchor="end">10</text>
<text x="40.8" y="324.2" text-anchor="middle">100</text>
<text x="226.4" y="324.1" text-anchor="middle">1000</text>
<text x="197.5" y="336.4" text-anchor="middle" font-size="12.05">Semi-major axis (AU)</text>
<text transform="translate(11.5,156.6) rotate(-90)" text-anchor="middle" font-size="12.1">Mass (M<tspan font-size="7.4" dy="2.2">Jup</tspan><tspan dy="-2.2">)</tspan></text>
</g>
</svg>
</body></html>
